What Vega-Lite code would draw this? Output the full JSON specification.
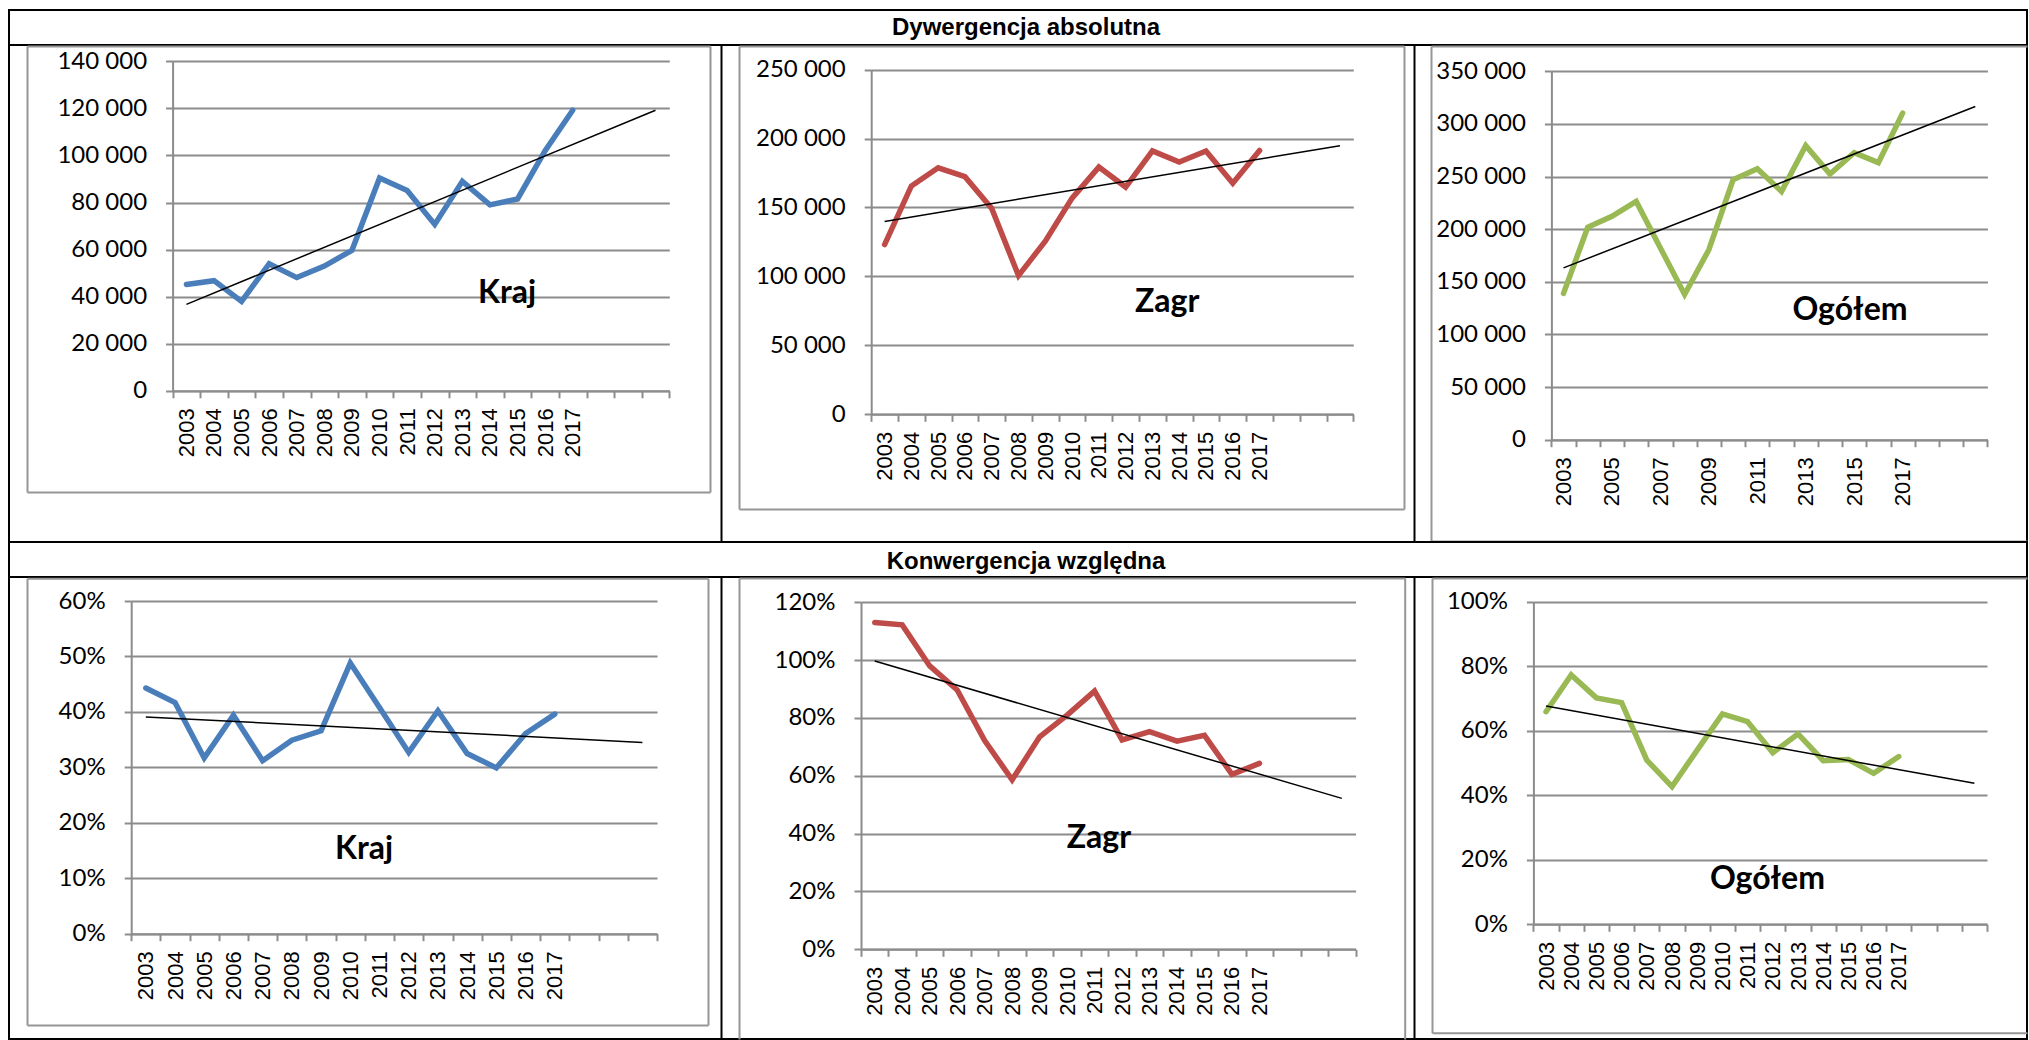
{
  "$schema": "https://vega.github.io/schema/vega-lite/v6.json",
  "padding": {"left": -3, "top": 9, "right": 0, "bottom": 0},
  "spacing": 0,
  "bounds": "flush",
  "datasets": {
    "frame": [{"f": 0}],
    "series": [
      {"panel": "A1", "year": "2003", "value": 45200}, {"panel": "A1", "year": "2004", "value": 46800}, {"panel": "A1", "year": "2005", "value": 38000}, {"panel": "A1", "year": "2006", "value": 54000}, {"panel": "A1", "year": "2007", "value": 48100}, {"panel": "A1", "year": "2008", "value": 53000}, {"panel": "A1", "year": "2009", "value": 59700}, {"panel": "A1", "year": "2010", "value": 90400}, {"panel": "A1", "year": "2011", "value": 85100}, {"panel": "A1", "year": "2012", "value": 70700}, {"panel": "A1", "year": "2013", "value": 89000}, {"panel": "A1", "year": "2014", "value": 79000}, {"panel": "A1", "year": "2015", "value": 81500}, {"panel": "A1", "year": "2016", "value": 102000}, {"panel": "A1", "year": "2017", "value": 119200},
      {"panel": "A2", "year": "2003", "value": 123100}, {"panel": "A2", "year": "2004", "value": 165600}, {"panel": "A2", "year": "2005", "value": 178800}, {"panel": "A2", "year": "2006", "value": 172300}, {"panel": "A2", "year": "2007", "value": 149300}, {"panel": "A2", "year": "2008", "value": 100600}, {"panel": "A2", "year": "2009", "value": 125600}, {"panel": "A2", "year": "2010", "value": 156800}, {"panel": "A2", "year": "2011", "value": 179300}, {"panel": "A2", "year": "2012", "value": 164800}, {"panel": "A2", "year": "2013", "value": 191000}, {"panel": "A2", "year": "2014", "value": 183000}, {"panel": "A2", "year": "2015", "value": 191000}, {"panel": "A2", "year": "2016", "value": 167600}, {"panel": "A2", "year": "2017", "value": 191300},
      {"panel": "A3", "year": "2003", "value": 139000}, {"panel": "A3", "year": "2004", "value": 201800}, {"panel": "A3", "year": "2005", "value": 212200}, {"panel": "A3", "year": "2006", "value": 226300}, {"panel": "A3", "year": "2007", "value": 182100}, {"panel": "A3", "year": "2008", "value": 138000}, {"panel": "A3", "year": "2009", "value": 180500}, {"panel": "A3", "year": "2010", "value": 246900}, {"panel": "A3", "year": "2011", "value": 257400}, {"panel": "A3", "year": "2012", "value": 235800}, {"panel": "A3", "year": "2013", "value": 279300}, {"panel": "A3", "year": "2014", "value": 252400}, {"panel": "A3", "year": "2015", "value": 272700}, {"panel": "A3", "year": "2016", "value": 263200}, {"panel": "A3", "year": "2017", "value": 310300},
      {"panel": "B1", "year": "2003", "value": 0.443}, {"panel": "B1", "year": "2004", "value": 0.417}, {"panel": "B1", "year": "2005", "value": 0.317}, {"panel": "B1", "year": "2006", "value": 0.394}, {"panel": "B1", "year": "2007", "value": 0.312}, {"panel": "B1", "year": "2008", "value": 0.349}, {"panel": "B1", "year": "2009", "value": 0.366}, {"panel": "B1", "year": "2010", "value": 0.488}, {"panel": "B1", "year": "2011", "value": 0.408}, {"panel": "B1", "year": "2012", "value": 0.327}, {"panel": "B1", "year": "2013", "value": 0.402}, {"panel": "B1", "year": "2014", "value": 0.325}, {"panel": "B1", "year": "2015", "value": 0.299}, {"panel": "B1", "year": "2016", "value": 0.361}, {"panel": "B1", "year": "2017", "value": 0.396},
      {"panel": "B2", "year": "2003", "value": 1.13}, {"panel": "B2", "year": "2004", "value": 1.122}, {"panel": "B2", "year": "2005", "value": 0.98}, {"panel": "B2", "year": "2006", "value": 0.897}, {"panel": "B2", "year": "2007", "value": 0.722}, {"panel": "B2", "year": "2008", "value": 0.586}, {"panel": "B2", "year": "2009", "value": 0.735}, {"panel": "B2", "year": "2010", "value": 0.81}, {"panel": "B2", "year": "2011", "value": 0.893}, {"panel": "B2", "year": "2012", "value": 0.724}, {"panel": "B2", "year": "2013", "value": 0.753}, {"panel": "B2", "year": "2014", "value": 0.72}, {"panel": "B2", "year": "2015", "value": 0.74}, {"panel": "B2", "year": "2016", "value": 0.605}, {"panel": "B2", "year": "2017", "value": 0.643},
      {"panel": "B3", "year": "2003", "value": 0.659}, {"panel": "B3", "year": "2004", "value": 0.773}, {"panel": "B3", "year": "2005", "value": 0.702}, {"panel": "B3", "year": "2006", "value": 0.687}, {"panel": "B3", "year": "2007", "value": 0.509}, {"panel": "B3", "year": "2008", "value": 0.427}, {"panel": "B3", "year": "2009", "value": 0.54}, {"panel": "B3", "year": "2010", "value": 0.652}, {"panel": "B3", "year": "2011", "value": 0.628}, {"panel": "B3", "year": "2012", "value": 0.532}, {"panel": "B3", "year": "2013", "value": 0.59}, {"panel": "B3", "year": "2014", "value": 0.507}, {"panel": "B3", "year": "2015", "value": 0.511}, {"panel": "B3", "year": "2016", "value": 0.468}, {"panel": "B3", "year": "2017", "value": 0.52}
    ],
    "trend": [
      {"panel": "A1", "year": "2003", "value": 36700}, {"panel": "A1", "year": "2020", "value": 119200},
      {"panel": "A2", "year": "2003", "value": 139900}, {"panel": "A2", "year": "2020", "value": 194800},
      {"panel": "A3", "year": "2003", "value": 163200}, {"panel": "A3", "year": "2020", "value": 316500},
      {"panel": "B1", "year": "2003", "value": 0.391}, {"panel": "B1", "year": "2020", "value": 0.345},
      {"panel": "B2", "year": "2003", "value": 0.997}, {"panel": "B2", "year": "2020", "value": 0.522},
      {"panel": "B3", "year": "2003", "value": 0.677}, {"panel": "B3", "year": "2020", "value": 0.437}
    ],
    "labels": [
      {"panel": "A1", "year": "2015", "value": 37300, "label": "Kraj"},
      {"panel": "A2", "year": "2014", "value": 74500, "label": "Zagr"},
      {"panel": "A3", "year": "2015", "value": 114100, "label": "Ogółem"},
      {"panel": "B1", "year": "2010", "value": 0.134, "label": "Kraj"},
      {"panel": "B2", "year": "2011", "value": 0.352, "label": "Zagr"},
      {"panel": "B3", "year": "2012", "value": 0.108, "label": "Ogółem"}
    ]
  },
  "vconcat": [
    {
      "width": 2018, "height": 35,
      "view": {"stroke": "#000000", "strokeWidth": 2},
      "data": {"values": [{"t": "Dywergencja absolutna"}]},
      "mark": {"type": "text", "font": "Liberation Sans", "fontWeight": "bold", "fontSize": 24, "dx": 8, "baseline": "middle", "color": "#000000"},
      "encoding": {"text": {"field": "t"}}
    },
    {
      "width": 2018, "height": 497,
      "view": {"stroke": "#000000", "strokeWidth": 2},
      "resolve": {"scale": {"x": "independent", "y": "independent"}, "axis": {"x": "independent", "y": "independent"}},
      "layer": [
        {"data": {"name": "frame"}, "mark": {"type": "point", "opacity": 0, "size": 0, "strokeWidth": 0},
         "encoding": {
           "x": {"field": "f", "type": "quantitative", "scale": {"domain": [0, 1, 2], "range": [0, 712, 1405]}, "axis": {"orient": "bottom", "values": [1, 2], "grid": true, "domain": false, "ticks": false, "labels": false, "title": null, "gridColor": "#000000", "gridWidth": 2}},
           "y": {"field": "f", "type": "quantitative", "scale": {"domain": [0, 1], "range": [497, 0]}, "axis": null}
         }},
        {"data": {"name": "frame"}, "mark": {"type": "point", "opacity": 0, "size": 0, "strokeWidth": 0},
         "encoding": {
           "x": {"field": "f", "type": "quantitative", "scale": {"domain": [0, 1], "range": [18, 701]}, "axis": {"orient": "bottom", "offset": -50, "domain": true, "domainColor": "#969696", "ticks": false, "labels": false, "grid": false, "title": null}},
           "y": {"field": "f", "type": "quantitative", "scale": {"domain": [0, 1], "range": [447, 1]}, "axis": {"orient": "left", "offset": -18, "domain": true, "domainColor": "#969696", "ticks": false, "labels": false, "grid": false, "title": null}}
         }},
        {"data": {"name": "frame"}, "mark": {"type": "point", "opacity": 0, "size": 0, "strokeWidth": 0},
         "encoding": {
           "x": {"field": "f", "type": "quantitative", "scale": {"domain": [0, 1], "range": [18, 701]}, "axis": {"orient": "top", "offset": -1, "domain": true, "domainColor": "#969696", "ticks": false, "labels": false, "grid": false, "title": null}},
           "y": {"field": "f", "type": "quantitative", "scale": {"domain": [0, 1], "range": [447, 1]}, "axis": {"orient": "right", "offset": -1317, "domain": true, "domainColor": "#969696", "ticks": false, "labels": false, "grid": false, "title": null}}
         }},
        {"data": {"name": "frame"}, "mark": {"type": "point", "opacity": 0, "size": 0, "strokeWidth": 0},
         "encoding": {
           "x": {"field": "f", "type": "quantitative", "scale": {"domain": [0, 1], "range": [730, 1395]}, "axis": {"orient": "bottom", "offset": -33, "domain": true, "domainColor": "#969696", "ticks": false, "labels": false, "grid": false, "title": null}},
           "y": {"field": "f", "type": "quantitative", "scale": {"domain": [0, 1], "range": [464, 1]}, "axis": {"orient": "left", "offset": -730, "domain": true, "domainColor": "#969696", "ticks": false, "labels": false, "grid": false, "title": null}}
         }},
        {"data": {"name": "frame"}, "mark": {"type": "point", "opacity": 0, "size": 0, "strokeWidth": 0},
         "encoding": {
           "x": {"field": "f", "type": "quantitative", "scale": {"domain": [0, 1], "range": [730, 1395]}, "axis": {"orient": "top", "offset": -1, "domain": true, "domainColor": "#969696", "ticks": false, "labels": false, "grid": false, "title": null}},
           "y": {"field": "f", "type": "quantitative", "scale": {"domain": [0, 1], "range": [464, 1]}, "axis": {"orient": "right", "offset": -623, "domain": true, "domainColor": "#969696", "ticks": false, "labels": false, "grid": false, "title": null}}
         }},
        {"data": {"name": "frame"}, "mark": {"type": "point", "opacity": 0, "size": 0, "strokeWidth": 0},
         "encoding": {
           "x": {"field": "f", "type": "quantitative", "scale": {"domain": [0, 1], "range": [1422, 2018]}, "axis": {"orient": "bottom", "offset": -1, "domain": true, "domainColor": "#969696", "ticks": false, "labels": false, "grid": false, "title": null}},
           "y": {"field": "f", "type": "quantitative", "scale": {"domain": [0, 1], "range": [496, 1]}, "axis": {"orient": "left", "offset": -1422, "domain": true, "domainColor": "#969696", "ticks": false, "labels": false, "grid": false, "title": null}}
         }},
        {"data": {"name": "frame"}, "mark": {"type": "point", "opacity": 0, "size": 0, "strokeWidth": 0},
         "encoding": {
           "x": {"field": "f", "type": "quantitative", "scale": {"domain": [0, 1], "range": [1422, 2018]}, "axis": {"orient": "top", "offset": -1, "domain": true, "domainColor": "#969696", "ticks": false, "labels": false, "grid": false, "title": null}},
           "y": {"field": "f", "type": "quantitative", "scale": {"domain": [0, 1], "range": [496, 1]}, "axis": null}
         }},

        {"data": {"name": "series"}, "transform": [{"filter": "datum.panel == 'A1'"}],
         "mark": {"type": "line", "color": "#4A7EBB", "strokeWidth": 5.5, "strokeCap": "round"},
         "encoding": {
           "x": {"field": "year", "type": "ordinal", "bandPosition": 0.5, "scale": {"type": "band", "domain": ["2003","2004","2005","2006","2007","2008","2009","2010","2011","2012","2013","2014","2015","2016","2017","2018","2019","2020"], "range": [163.6, 660.3], "paddingInner": 0, "paddingOuter": 0},
                 "axis": {"orient": "bottom", "offset": -151.2, "tickBand": "extent", "labelExpr": "datum.value > 2017 ? '' : datum.label", "title": null, "grid": false}},
           "y": {"field": "value", "type": "quantitative", "scale": {"domain": [0, 140000], "range": [345.8, 16.3]},
                 "axis": {"orient": "left", "offset": -163.6, "values": [0, 20000, 40000, 60000, 80000, 100000, 120000, 140000], "grid": true, "labelExpr": "replace(format(datum.value, ','), ',', ' ')", "title": null}}
         }},
        {"data": {"name": "trend"}, "transform": [{"filter": "datum.panel == 'A1'"}],
         "mark": {"type": "line", "color": "#000000", "strokeWidth": 1.5},
         "encoding": {
           "x": {"field": "year", "type": "ordinal", "bandPosition": 0.5, "scale": {"type": "band", "domain": ["2003","2004","2005","2006","2007","2008","2009","2010","2011","2012","2013","2014","2015","2016","2017","2018","2019","2020"], "range": [163.6, 660.3], "paddingInner": 0, "paddingOuter": 0}, "axis": null},
           "y": {"field": "value", "type": "quantitative", "scale": {"domain": [0, 140000], "range": [345.8, 16.3]}, "axis": null}
         }},
        {"data": {"name": "labels"}, "transform": [{"filter": "datum.panel == 'A1'"}],
         "mark": {"type": "text", "font": "Lato", "fontWeight": "bold", "fontSize": 32, "align": "center", "baseline": "alphabetic", "color": "#000000"},
         "encoding": {
           "x": {"field": "year", "type": "ordinal", "bandPosition": 0.12, "scale": {"type": "band", "domain": ["2003","2004","2005","2006","2007","2008","2009","2010","2011","2012","2013","2014","2015","2016","2017","2018","2019","2020"], "range": [163.6, 660.3], "paddingInner": 0, "paddingOuter": 0}, "axis": null},
           "y": {"field": "value", "type": "quantitative", "scale": {"domain": [0, 140000], "range": [345.8, 16.3]}, "axis": null},
           "text": {"field": "label"}
         }},

        {"data": {"name": "series"}, "transform": [{"filter": "datum.panel == 'A2'"}],
         "mark": {"type": "line", "color": "#BE4B48", "strokeWidth": 5.5, "strokeCap": "round"},
         "encoding": {
           "x": {"field": "year", "type": "ordinal", "bandPosition": 0.5, "scale": {"type": "band", "domain": ["2003","2004","2005","2006","2007","2008","2009","2010","2011","2012","2013","2014","2015","2016","2017","2018","2019","2020"], "range": [862.2, 1344.3], "paddingInner": 0, "paddingOuter": 0},
                 "axis": {"orient": "bottom", "offset": -127.7, "tickBand": "extent", "labelExpr": "datum.value > 2017 ? '' : datum.label", "title": null, "grid": false}},
           "y": {"field": "value", "type": "quantitative", "scale": {"domain": [0, 250000], "range": [369.3, 24.6]},
                 "axis": {"orient": "left", "offset": -862.2, "values": [0, 50000, 100000, 150000, 200000, 250000], "grid": true, "labelExpr": "replace(format(datum.value, ','), ',', ' ')", "title": null}}
         }},
        {"data": {"name": "trend"}, "transform": [{"filter": "datum.panel == 'A2'"}],
         "mark": {"type": "line", "color": "#000000", "strokeWidth": 1.5},
         "encoding": {
           "x": {"field": "year", "type": "ordinal", "bandPosition": 0.5, "scale": {"type": "band", "domain": ["2003","2004","2005","2006","2007","2008","2009","2010","2011","2012","2013","2014","2015","2016","2017","2018","2019","2020"], "range": [862.2, 1344.3], "paddingInner": 0, "paddingOuter": 0}, "axis": null},
           "y": {"field": "value", "type": "quantitative", "scale": {"domain": [0, 250000], "range": [369.3, 24.6]}, "axis": null}
         }},
        {"data": {"name": "labels"}, "transform": [{"filter": "datum.panel == 'A2'"}],
         "mark": {"type": "text", "font": "Lato", "fontWeight": "bold", "fontSize": 32, "align": "center", "baseline": "alphabetic", "color": "#000000"},
         "encoding": {
           "x": {"field": "year", "type": "ordinal", "bandPosition": 0.05, "scale": {"type": "band", "domain": ["2003","2004","2005","2006","2007","2008","2009","2010","2011","2012","2013","2014","2015","2016","2017","2018","2019","2020"], "range": [862.2, 1344.3], "paddingInner": 0, "paddingOuter": 0}, "axis": null},
           "y": {"field": "value", "type": "quantitative", "scale": {"domain": [0, 250000], "range": [369.3, 24.6]}, "axis": null},
           "text": {"field": "label"}
         }},

        {"data": {"name": "series"}, "transform": [{"filter": "datum.panel == 'A3'"}],
         "mark": {"type": "line", "color": "#98B954", "strokeWidth": 5.5, "strokeCap": "round"},
         "encoding": {
           "x": {"field": "year", "type": "ordinal", "bandPosition": 0.5, "scale": {"type": "band", "domain": ["2003","2004","2005","2006","2007","2008","2009","2010","2011","2012","2013","2014","2015","2016","2017","2018","2019","2020"], "range": [1542.4, 1978.4], "paddingInner": 0, "paddingOuter": 0},
                 "axis": {"orient": "bottom", "offset": -102.3, "tickBand": "extent", "labelExpr": "(datum.value > 2017 || datum.value % 2 == 0) ? '' : datum.label", "title": null, "grid": false}},
           "y": {"field": "value", "type": "quantitative", "scale": {"domain": [0, 350000], "range": [394.7, 26.3]},
                 "axis": {"orient": "left", "offset": -1542.4, "values": [0, 50000, 100000, 150000, 200000, 250000, 300000, 350000], "grid": true, "labelExpr": "replace(format(datum.value, ','), ',', ' ')", "title": null}}
         }},
        {"data": {"name": "trend"}, "transform": [{"filter": "datum.panel == 'A3'"}],
         "mark": {"type": "line", "color": "#000000", "strokeWidth": 1.5},
         "encoding": {
           "x": {"field": "year", "type": "ordinal", "bandPosition": 0.5, "scale": {"type": "band", "domain": ["2003","2004","2005","2006","2007","2008","2009","2010","2011","2012","2013","2014","2015","2016","2017","2018","2019","2020"], "range": [1542.4, 1978.4], "paddingInner": 0, "paddingOuter": 0}, "axis": null},
           "y": {"field": "value", "type": "quantitative", "scale": {"domain": [0, 350000], "range": [394.7, 26.3]}, "axis": null}
         }},
        {"data": {"name": "labels"}, "transform": [{"filter": "datum.panel == 'A3'"}],
         "mark": {"type": "text", "font": "Lato", "fontWeight": "bold", "fontSize": 32, "align": "center", "baseline": "alphabetic", "color": "#000000"},
         "encoding": {
           "x": {"field": "year", "type": "ordinal", "bandPosition": 0.33, "scale": {"type": "band", "domain": ["2003","2004","2005","2006","2007","2008","2009","2010","2011","2012","2013","2014","2015","2016","2017","2018","2019","2020"], "range": [1542.4, 1978.4], "paddingInner": 0, "paddingOuter": 0}, "axis": null},
           "y": {"field": "value", "type": "quantitative", "scale": {"domain": [0, 350000], "range": [394.7, 26.3]}, "axis": null},
           "text": {"field": "label"}
         }}
      ]
    },
    {
      "width": 2018, "height": 35,
      "view": {"stroke": "#000000", "strokeWidth": 2},
      "data": {"values": [{"t": "Konwergencja względna"}]},
      "mark": {"type": "text", "font": "Liberation Sans", "fontWeight": "bold", "fontSize": 24, "dx": 8, "dy": 2, "baseline": "middle", "color": "#000000"},
      "encoding": {"text": {"field": "t"}}
    },
    {
      "width": 2018, "height": 462,
      "view": {"stroke": "#000000", "strokeWidth": 2},
      "resolve": {"scale": {"x": "independent", "y": "independent"}, "axis": {"x": "independent", "y": "independent"}},
      "layer": [
        {"data": {"name": "frame"}, "mark": {"type": "point", "opacity": 0, "size": 0, "strokeWidth": 0},
         "encoding": {
           "x": {"field": "f", "type": "quantitative", "scale": {"domain": [0, 1, 2], "range": [0, 712, 1405]}, "axis": {"orient": "bottom", "values": [1, 2], "grid": true, "domain": false, "ticks": false, "labels": false, "title": null, "gridColor": "#000000", "gridWidth": 2}},
           "y": {"field": "f", "type": "quantitative", "scale": {"domain": [0, 1], "range": [462, 0]}, "axis": null}
         }},
        {"data": {"name": "frame"}, "mark": {"type": "point", "opacity": 0, "size": 0, "strokeWidth": 0},
         "encoding": {
           "x": {"field": "f", "type": "quantitative", "scale": {"domain": [0, 1], "range": [18, 699]}, "axis": {"orient": "bottom", "offset": -14, "domain": true, "domainColor": "#969696", "ticks": false, "labels": false, "grid": false, "title": null}},
           "y": {"field": "f", "type": "quantitative", "scale": {"domain": [0, 1], "range": [448, 1.3]}, "axis": {"orient": "left", "offset": -18, "domain": true, "domainColor": "#969696", "ticks": false, "labels": false, "grid": false, "title": null}}
         }},
        {"data": {"name": "frame"}, "mark": {"type": "point", "opacity": 0, "size": 0, "strokeWidth": 0},
         "encoding": {
           "x": {"field": "f", "type": "quantitative", "scale": {"domain": [0, 1], "range": [18, 699]}, "axis": {"orient": "top", "offset": -1.3, "domain": true, "domainColor": "#969696", "ticks": false, "labels": false, "grid": false, "title": null}},
           "y": {"field": "f", "type": "quantitative", "scale": {"domain": [0, 1], "range": [448, 1.3]}, "axis": {"orient": "right", "offset": -1319, "domain": true, "domainColor": "#969696", "ticks": false, "labels": false, "grid": false, "title": null}}
         }},
        {"data": {"name": "frame"}, "mark": {"type": "point", "opacity": 0, "size": 0, "strokeWidth": 0},
         "encoding": {
           "x": {"field": "f", "type": "quantitative", "scale": {"domain": [0, 1], "range": [730, 1395.7]}, "axis": {"orient": "top", "offset": -1, "domain": true, "domainColor": "#969696", "ticks": false, "labels": false, "grid": false, "title": null}},
           "y": {"field": "f", "type": "quantitative", "scale": {"domain": [0, 1], "range": [462, 1]}, "axis": {"orient": "left", "offset": -730, "domain": true, "domainColor": "#969696", "ticks": false, "labels": false, "grid": false, "title": null}}
         }},
        {"data": {"name": "frame"}, "mark": {"type": "point", "opacity": 0, "size": 0, "strokeWidth": 0},
         "encoding": {
           "x": {"field": "f", "type": "quantitative", "scale": {"domain": [0, 1], "range": [730, 1395.7]}, "axis": null},
           "y": {"field": "f", "type": "quantitative", "scale": {"domain": [0, 1], "range": [462, 1]}, "axis": {"orient": "right", "offset": -622.3, "domain": true, "domainColor": "#969696", "ticks": false, "labels": false, "grid": false, "title": null}}
         }},
        {"data": {"name": "frame"}, "mark": {"type": "point", "opacity": 0, "size": 0, "strokeWidth": 0},
         "encoding": {
           "x": {"field": "f", "type": "quantitative", "scale": {"domain": [0, 1], "range": [1423, 2018]}, "axis": {"orient": "bottom", "offset": -6.3, "domain": true, "domainColor": "#969696", "ticks": false, "labels": false, "grid": false, "title": null}},
           "y": {"field": "f", "type": "quantitative", "scale": {"domain": [0, 1], "range": [455.7, 1]}, "axis": {"orient": "left", "offset": -1423, "domain": true, "domainColor": "#969696", "ticks": false, "labels": false, "grid": false, "title": null}}
         }},
        {"data": {"name": "frame"}, "mark": {"type": "point", "opacity": 0, "size": 0, "strokeWidth": 0},
         "encoding": {
           "x": {"field": "f", "type": "quantitative", "scale": {"domain": [0, 1], "range": [1423, 2018]}, "axis": {"orient": "top", "offset": -1, "domain": true, "domainColor": "#969696", "ticks": false, "labels": false, "grid": false, "title": null}},
           "y": {"field": "f", "type": "quantitative", "scale": {"domain": [0, 1], "range": [455.7, 1]}, "axis": null}
         }},

        {"data": {"name": "series"}, "transform": [{"filter": "datum.panel == 'B1'"}],
         "mark": {"type": "line", "color": "#4A7EBB", "strokeWidth": 5.5, "strokeCap": "round"},
         "encoding": {
           "x": {"field": "year", "type": "ordinal", "bandPosition": 0.5, "scale": {"type": "band", "domain": ["2003","2004","2005","2006","2007","2008","2009","2010","2011","2012","2013","2014","2015","2016","2017","2018","2019","2020"], "range": [122.2, 648], "paddingInner": 0, "paddingOuter": 0},
                 "axis": {"orient": "bottom", "offset": -105.3, "tickBand": "extent", "labelExpr": "datum.value > 2017 ? '' : datum.label", "title": null, "grid": false}},
           "y": {"field": "value", "type": "quantitative", "scale": {"domain": [0, 0.6], "range": [356.7, 24]},
                 "axis": {"orient": "left", "offset": -122.2, "values": [0, 0.1, 0.2, 0.3, 0.4, 0.5, 0.6], "grid": true, "format": ".0%", "title": null}}
         }},
        {"data": {"name": "trend"}, "transform": [{"filter": "datum.panel == 'B1'"}],
         "mark": {"type": "line", "color": "#000000", "strokeWidth": 1.5},
         "encoding": {
           "x": {"field": "year", "type": "ordinal", "bandPosition": 0.5, "scale": {"type": "band", "domain": ["2003","2004","2005","2006","2007","2008","2009","2010","2011","2012","2013","2014","2015","2016","2017","2018","2019","2020"], "range": [122.2, 648], "paddingInner": 0, "paddingOuter": 0}, "axis": null},
           "y": {"field": "value", "type": "quantitative", "scale": {"domain": [0, 0.6], "range": [356.7, 24]}, "axis": null}
         }},
        {"data": {"name": "labels"}, "transform": [{"filter": "datum.panel == 'B1'"}],
         "mark": {"type": "text", "font": "Lato", "fontWeight": "bold", "fontSize": 32, "align": "center", "baseline": "alphabetic", "color": "#000000"},
         "encoding": {
           "x": {"field": "year", "type": "ordinal", "bandPosition": 0.97, "scale": {"type": "band", "domain": ["2003","2004","2005","2006","2007","2008","2009","2010","2011","2012","2013","2014","2015","2016","2017","2018","2019","2020"], "range": [122.2, 648], "paddingInner": 0, "paddingOuter": 0}, "axis": null},
           "y": {"field": "value", "type": "quantitative", "scale": {"domain": [0, 0.6], "range": [356.7, 24]}, "axis": null},
           "text": {"field": "label"}
         }},

        {"data": {"name": "series"}, "transform": [{"filter": "datum.panel == 'B2'"}],
         "mark": {"type": "line", "color": "#BE4B48", "strokeWidth": 5.5, "strokeCap": "round"},
         "encoding": {
           "x": {"field": "year", "type": "ordinal", "bandPosition": 0.5, "scale": {"type": "band", "domain": ["2003","2004","2005","2006","2007","2008","2009","2010","2011","2012","2013","2014","2015","2016","2017","2018","2019","2020"], "range": [852, 1346.6], "paddingInner": 0, "paddingOuter": 0},
                 "axis": {"orient": "bottom", "offset": -89.7, "tickBand": "extent", "labelExpr": "datum.value > 2017 ? '' : datum.label", "title": null, "grid": false}},
           "y": {"field": "value", "type": "quantitative", "scale": {"domain": [0, 1.2], "range": [372.3, 25.3]},
                 "axis": {"orient": "left", "offset": -852, "values": [0, 0.2, 0.4, 0.6, 0.8, 1.0, 1.2], "grid": true, "format": ".0%", "title": null}}
         }},
        {"data": {"name": "trend"}, "transform": [{"filter": "datum.panel == 'B2'"}],
         "mark": {"type": "line", "color": "#000000", "strokeWidth": 1.5},
         "encoding": {
           "x": {"field": "year", "type": "ordinal", "bandPosition": 0.5, "scale": {"type": "band", "domain": ["2003","2004","2005","2006","2007","2008","2009","2010","2011","2012","2013","2014","2015","2016","2017","2018","2019","2020"], "range": [852, 1346.6], "paddingInner": 0, "paddingOuter": 0}, "axis": null},
           "y": {"field": "value", "type": "quantitative", "scale": {"domain": [0, 1.2], "range": [372.3, 25.3]}, "axis": null}
         }},
        {"data": {"name": "labels"}, "transform": [{"filter": "datum.panel == 'B2'"}],
         "mark": {"type": "text", "font": "Lato", "fontWeight": "bold", "fontSize": 32, "align": "center", "baseline": "alphabetic", "color": "#000000"},
         "encoding": {
           "x": {"field": "year", "type": "ordinal", "bandPosition": 0.66, "scale": {"type": "band", "domain": ["2003","2004","2005","2006","2007","2008","2009","2010","2011","2012","2013","2014","2015","2016","2017","2018","2019","2020"], "range": [852, 1346.6], "paddingInner": 0, "paddingOuter": 0}, "axis": null},
           "y": {"field": "value", "type": "quantitative", "scale": {"domain": [0, 1.2], "range": [372.3, 25.3]}, "axis": null},
           "text": {"field": "label"}
         }},

        {"data": {"name": "series"}, "transform": [{"filter": "datum.panel == 'B3'"}],
         "mark": {"type": "line", "color": "#98B954", "strokeWidth": 5.5, "strokeCap": "round"},
         "encoding": {
           "x": {"field": "year", "type": "ordinal", "bandPosition": 0.5, "scale": {"type": "band", "domain": ["2003","2004","2005","2006","2007","2008","2009","2010","2011","2012","2013","2014","2015","2016","2017","2018","2019","2020"], "range": [1524.4, 1978], "paddingInner": 0, "paddingOuter": 0},
                 "axis": {"orient": "bottom", "offset": -114.7, "tickBand": "extent", "labelExpr": "datum.value > 2017 ? '' : datum.label", "title": null, "grid": false}},
           "y": {"field": "value", "type": "quantitative", "scale": {"domain": [0, 1.0], "range": [347.3, 24.7]},
                 "axis": {"orient": "left", "offset": -1524.4, "values": [0, 0.2, 0.4, 0.6, 0.8, 1.0], "grid": true, "format": ".0%", "title": null}}
         }},
        {"data": {"name": "trend"}, "transform": [{"filter": "datum.panel == 'B3'"}],
         "mark": {"type": "line", "color": "#000000", "strokeWidth": 1.5},
         "encoding": {
           "x": {"field": "year", "type": "ordinal", "bandPosition": 0.5, "scale": {"type": "band", "domain": ["2003","2004","2005","2006","2007","2008","2009","2010","2011","2012","2013","2014","2015","2016","2017","2018","2019","2020"], "range": [1524.4, 1978], "paddingInner": 0, "paddingOuter": 0}, "axis": null},
           "y": {"field": "value", "type": "quantitative", "scale": {"domain": [0, 1.0], "range": [347.3, 24.7]}, "axis": null}
         }},
        {"data": {"name": "labels"}, "transform": [{"filter": "datum.panel == 'B3'"}],
         "mark": {"type": "text", "font": "Lato", "fontWeight": "bold", "fontSize": 32, "align": "center", "baseline": "alphabetic", "color": "#000000"},
         "encoding": {
           "x": {"field": "year", "type": "ordinal", "bandPosition": 0.29, "scale": {"type": "band", "domain": ["2003","2004","2005","2006","2007","2008","2009","2010","2011","2012","2013","2014","2015","2016","2017","2018","2019","2020"], "range": [1524.4, 1978], "paddingInner": 0, "paddingOuter": 0}, "axis": null},
           "y": {"field": "value", "type": "quantitative", "scale": {"domain": [0, 1.0], "range": [347.3, 24.7]}, "axis": null},
           "text": {"field": "label"}
         }}
      ]
    }
  ],
  "config": {
    "view": {"stroke": null},
    "axis": {
      "minExtent": 0,
      "domainColor": "#8c8c8c", "domainWidth": 2,
      "tickColor": "#8c8c8c", "tickWidth": 2, "tickSize": 7,
      "gridColor": "#8c8c8c", "gridWidth": 2,
      "labelColor": "#000000"
    },
    "axisX": {"labelFont": "Liberation Sans", "labelFontSize": 22, "labelAngle": -90, "labelPadding": 10, "labelOverlap": false, "labelBound": false},
    "axisY": {"labelFont": "Lato", "labelFontSize": 24, "labelPadding": 19, "labelOverlap": false}
  }
}
